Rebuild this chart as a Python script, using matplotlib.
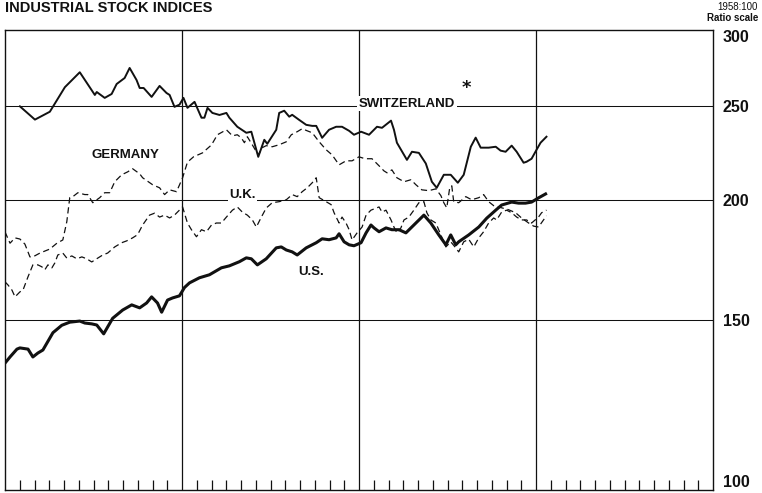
import matplotlib.pyplot as plt
from matplotlib.ticker import NullLocator

# industrial stock indices, 1958 = 100
# x is months from the left edge (4 years, 12 months each)

us_month = [0.00, 0.34, 0.81, 1.01, 1.56, 1.89, 2.23, 2.57, 3.25, 3.85, 4.39, 5.07, 5.41, 5.88,
            6.22, 6.69, 7.30, 7.98, 8.59, 9.13, 9.60, 9.94, 10.34, 10.62, 11.02, 11.36, 11.83,
            12.17, 12.51, 13.18, 13.86, 14.67, 15.21, 15.89, 16.36, 16.70, 17.11, 17.71, 18.39,
            18.73, 19.07, 19.47, 19.81, 20.42, 21.10, 21.50, 21.97, 22.45, 22.65, 22.99, 23.33,
            23.66, 24.14, 24.48, 24.81, 25.02, 25.36, 25.83, 26.23, 26.71, 27.18, 27.72, 28.40,
            28.87, 29.41, 29.89, 30.22, 30.56, 30.76, 31.44, 32.12, 32.66, 33.27, 33.67, 34.35,
            34.82, 35.29, 35.70, 36.17, 36.65]
us_index = [135.4, 137.4, 140.0, 140.4, 140.0, 137.4, 138.7, 139.7, 145.6, 148.2, 149.3, 149.7, 149.0, 148.7,
            148.3, 145.2, 150.7, 153.7, 155.6, 154.5, 156.3, 158.6, 156.3, 152.9, 157.4, 158.2, 159.0,
            162.2, 164.0, 166.0, 167.2, 170.0, 170.8, 172.5, 174.1, 173.7, 171.2, 173.7, 178.3,
            178.7, 177.4, 176.6, 175.3, 178.3, 180.5, 182.2, 181.8, 182.6, 184.4, 180.9, 179.6,
            179.2, 180.5, 184.8, 188.3, 187.0, 185.3, 187.0, 186.2, 186.2, 184.8, 188.3, 192.8,
            189.2, 183.9, 179.6, 183.9, 179.6, 180.9, 183.9, 187.4, 191.4, 195.1, 197.5, 198.9,
            198.4, 198.4, 198.9, 200.9, 202.8]

swiss_month = [1.01, 2.03, 3.04, 4.06, 5.07, 6.09, 6.22, 6.76, 7.23, 7.57, 8.11, 8.45, 8.92, 9.13,
               9.40, 9.94, 10.48, 10.95, 11.16, 11.49, 11.83, 12.10, 12.37, 12.85, 13.32, 13.52,
               13.73, 14.06, 14.54, 15.01, 15.21, 15.75, 16.36, 16.70, 17.17, 17.58, 17.78, 18.39,
               18.59, 18.93, 19.27, 19.47, 19.95, 20.42, 20.83, 21.10, 21.50, 21.97, 22.45, 22.85,
               23.33, 23.66, 24.14, 24.68, 25.22, 25.56, 26.17, 26.37, 26.57, 27.25, 27.59, 28.06,
               28.53, 28.94, 29.27, 29.75, 30.22, 30.70, 31.10, 31.58, 31.91, 32.25, 32.79, 33.27,
               33.60, 33.94, 34.35, 34.69, 35.16, 35.36, 35.70, 36.04, 36.31, 36.71]
swiss_index = [250.0, 242.2, 246.8, 261.7, 271.2, 256.9, 258.7, 255.1, 257.5, 263.7, 267.5, 274.0, 266.2, 261.2,
               261.2, 255.7, 262.5, 258.1, 256.9, 249.7, 251.0, 255.1, 249.1, 252.7, 243.3, 243.3,
               249.1, 246.1, 244.9, 246.1, 243.3, 238.1, 234.7, 235.3, 221.6, 230.8, 228.6, 236.4,
               246.1, 247.4, 243.9, 245.0, 242.0, 239.2, 238.6, 238.6, 231.9, 236.4, 238.1, 238.1,
               235.8, 233.6, 235.3, 233.6, 238.1, 237.5, 241.6, 236.4, 229.2, 220.0, 224.3, 223.7,
               218.1, 208.8, 205.8, 212.3, 212.3, 208.3, 212.3, 227.0, 232.0, 226.5, 226.5, 227.0,
               224.9, 224.3, 227.6, 224.3, 218.5, 219.0, 220.6, 225.4, 229.2, 232.5]

germany_month = [0.00, 0.34, 0.68, 1.01, 1.35, 1.69, 1.89, 2.37, 3.04, 3.52, 3.92, 4.19, 4.39, 4.60,
                 4.94, 5.41, 5.61, 5.95, 6.42, 6.76, 7.10, 7.44, 7.91, 8.32, 8.65, 9.13, 9.33, 10.01,
                 10.48, 10.82, 11.16, 11.63, 12.04, 12.37, 12.78, 13.39, 14.00, 14.40, 15.01, 15.42,
                 15.75, 16.02, 16.23, 16.43, 16.77, 17.17, 17.44, 17.71, 18.12, 18.59, 19.07, 19.41,
                 19.81, 20.15, 20.49, 20.83, 21.30, 21.77, 22.18, 22.65, 23.12, 23.53, 24.00, 24.41,
                 24.88, 25.36, 25.69, 25.90, 26.23, 26.57, 27.05, 27.52, 27.86, 28.26, 28.74, 29.21,
                 29.55, 29.75, 29.95, 30.15, 30.29, 30.42, 30.76, 31.24, 31.64, 32.12, 32.45, 32.79,
                 33.13, 33.67, 34.14, 34.62, 35.02, 35.50, 35.84, 36.17, 36.51, 36.71]
germany_index = [185.2, 180.3, 182.6, 182.1, 179.9, 174.5, 174.5, 176.1, 177.8, 180.3, 181.7, 189.8, 201.0, 201.5,
                 203.4, 202.5, 202.5, 198.6, 201.0, 203.4, 203.4, 208.8, 212.3, 213.8, 215.4, 212.8, 210.8, 207.3,
                 205.8, 202.5, 204.8, 203.9, 210.8, 218.8, 221.6, 223.7, 228.0, 233.6, 236.4, 233.0,
                 233.6, 231.9, 229.2, 232.5, 228.0, 222.6, 226.5, 227.6, 227.0, 228.1, 229.7, 233.6,
                 235.3, 237.0, 235.8, 234.7, 229.7, 225.4, 222.6, 217.4, 219.5, 219.5, 221.6, 220.6,
                 220.6, 216.9, 214.3, 213.3, 214.8, 210.8, 208.8, 209.8, 207.3, 204.8, 204.4, 205.3,
                 202.0, 198.6, 196.2, 205.8, 206.8, 199.1, 198.6, 201.5, 200.0, 201.0, 202.5, 199.1,
                 197.2, 196.2, 195.3, 193.9, 191.5, 189.2, 187.8, 187.4, 190.6, 192.5]

uk_month = [0.00, 0.20, 0.47, 0.68, 1.01, 1.22, 1.56, 1.89, 2.23, 2.50, 2.70, 2.91, 3.18, 3.38, 3.58,
            3.92, 4.19, 4.53, 4.87, 5.21, 5.54, 5.88, 6.29, 6.63, 6.96, 7.44, 7.91, 8.25, 8.65, 8.99,
            9.33, 9.80, 10.14, 10.48, 10.82, 11.16, 11.49, 12.04, 12.37, 12.64, 12.98, 13.32, 13.66,
            14.00, 14.33, 14.67, 15.01, 15.42, 15.75, 16.09, 16.43, 16.77, 17.04, 17.38, 17.71,
            18.12, 18.59, 19.07, 19.47, 19.81, 20.15, 20.49, 20.83, 21.10, 21.30, 21.77, 22.11,
            22.31, 22.65, 22.85, 23.12, 23.33, 23.53, 23.87, 24.21, 24.48, 24.81, 25.36, 25.56,
            25.83, 26.17, 26.37, 26.57, 26.84, 27.05, 27.38, 27.72, 28.06, 28.40, 28.60, 28.87,
            29.21, 29.55, 29.89, 30.22, 30.56, 30.76, 31.10, 31.44, 31.78, 32.12, 32.45, 32.79,
            33.13, 33.33, 33.67, 34.01, 34.35, 34.69, 35.02, 35.36, 35.70, 36.17, 36.38, 36.71]
uk_index = [164.4, 163.2, 161.2, 158.6, 160.5, 161.2, 166.4, 171.2, 171.2, 170.4, 169.2, 171.2, 170.0, 172.0, 175.3,
            176.1, 174.0, 174.9, 173.7, 174.5, 173.7, 172.4, 174.0, 175.3, 176.1, 178.7, 180.5, 181.3, 182.6, 184.0,
            188.3, 192.8, 193.7, 191.9, 192.8, 191.5, 192.8, 196.6, 189.2, 186.2, 183.1, 186.2, 185.3,
            188.3, 189.2, 189.2, 191.9, 195.1, 196.6, 194.2, 192.8, 190.6, 187.4, 191.9, 196.1,
            198.6, 199.1, 200.0, 202.5, 201.5, 203.9, 205.8, 208.3, 210.8, 201.0, 199.1, 197.7,
            193.9, 189.2, 191.9, 189.2, 186.2, 181.7, 184.8, 187.4, 192.8, 195.1, 196.6, 194.2,
            195.1, 190.6, 187.4, 184.8, 187.0, 190.6, 191.9, 195.1, 198.6, 199.1, 193.9, 190.6,
            189.2, 183.9, 178.7, 180.9, 178.3, 176.6, 180.9, 182.0, 178.7, 182.6, 185.3, 189.2,
            191.5, 190.6, 194.2, 195.1, 193.9, 191.9, 190.6, 190.6, 189.2, 191.9, 193.9, 195.1]

y_ticks = [100, 150, 200, 250, 300]
year_lines = [12, 24, 36]

ink = '#111111'
bold_font = ['Liberation Sans', 'DejaVu Sans']

fig = plt.figure(figsize=(7.62, 4.93), dpi=100)
ax = fig.add_axes([5 / 762, 3 / 493, 708 / 762, 460 / 493])

ax.set_yscale('log')
ax.set_ylim(100, 300)
ax.set_xlim(0, 48)

# grid: year boundaries and the 150/200/250 lines
for m in year_lines:
    ax.axvline(m, color=ink, lw=0.9, zorder=1)
for v in [150, 200, 250]:
    ax.axhline(v, color=ink, lw=0.75, zorder=1)

# the four series
ax.plot(germany_month, germany_index, color=ink, lw=0.9, ls=(0, (5, 3)), zorder=3)
ax.plot(uk_month, uk_index, color=ink, lw=0.9, ls=(0, (5, 3)), zorder=3)
ax.plot(swiss_month, swiss_index, color=ink, lw=1.4, zorder=4)
ax.plot(us_month, us_index, color=ink, lw=2.2, zorder=5)

# country labels (white box breaks the grid line behind)
lab = dict(color=ink, fontsize=9.5, fontweight='bold', family=bold_font,
           ha='center', va='center', zorder=6)
box = dict(facecolor='white', edgecolor='none', pad=1.0)
ax.text(27.25, 251.5, 'SWITZERLAND', bbox=box, **lab)
ax.text(8.15, 222.6, 'GERMANY', **lab)
ax.text(16.1, 202.3, 'U.K.', bbox=box, **lab)
ax.text(20.75, 168.3, 'U.S.', **lab)
ax.text(31.3, 261, '*', color=ink, fontsize=13, fontweight='bold', ha='center', va='center')

# right hand ratio scale
ax.yaxis.tick_right()
ax.yaxis.set_minor_locator(NullLocator())
ax.set_yticks(y_ticks)
ax.set_yticklabels([str(t) for t in y_ticks])
ax.tick_params(axis='y', length=0, pad=7)
for t, txt in zip(y_ticks, ax.get_yticklabels()):
    txt.set_fontsize(11.5)
    txt.set_fontweight('bold')
    txt.set_family(bold_font)
    txt.set_color(ink)
    if t == 300:
        txt.set_va('top')
    elif t == 100:
        txt.set_va('bottom')

# monthly ticks along the bottom
ax.set_xticks([m for m in range(1, 48) if m not in year_lines])
ax.set_xticklabels([])
ax.tick_params(axis='x', direction='in', length=7, width=0.9, color=ink)

for s in ax.spines.values():
    s.set_color(ink)
    s.set_linewidth(1.0)

# title sits right at the top edge, kept just inside the picture
fig.text(5 / 762, 1 - 1 / 493, 'INDUSTRIAL STOCK INDICES', fontsize=10.5, fontweight='bold',
         family=bold_font, color=ink, ha='left', va='top')
fig.text(758 / 762, 1 - 7 / 493, '1958:100', fontsize=7, family=bold_font, color=ink,
         ha='right', va='center')
fig.text(758 / 762, 1 - 18 / 493, 'Ratio scale', fontsize=7, fontweight='bold',
         family=bold_font, color=ink, ha='right', va='center')

fig.savefig('out.png', dpi=100, facecolor='white')
